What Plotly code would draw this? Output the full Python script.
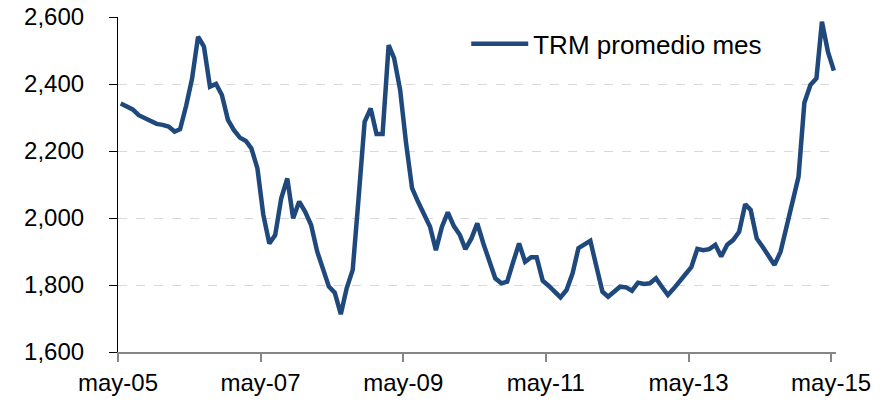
import pandas as pd
import plotly.graph_objects as go

# Monthly dates (mid-month), May 2005 - May 2015
months = pd.date_range("2005-05-01", "2015-05-01", freq="MS") + pd.Timedelta(days=14)

trm = [
    2342, 2332, 2324, 2307, 2297, 2290, 2281, 2278, 2273, 2258, 2265, 2335,
    2415, 2541, 2512, 2392, 2400, 2367, 2293, 2263, 2240, 2230, 2208, 2148,
    2010, 1924, 1949, 2059, 2118, 1999, 2049, 2019, 1979, 1900, 1845, 1795,
    1777, 1713, 1790, 1845, 2066, 2287, 2327, 2251, 2251, 2516, 2477, 2382,
    2225, 2089, 2049, 2009, 1974, 1904, 1974, 2017, 1976, 1949, 1907, 1939,
    1984, 1924, 1869, 1820, 1805, 1810, 1869, 1924, 1869, 1883, 1883, 1813,
    1798, 1780, 1763, 1785, 1835, 1910, 1920, 1932, 1855, 1780, 1765, 1780,
    1795, 1793, 1783, 1807, 1803, 1805, 1820, 1795, 1770, 1790, 1812, 1832,
    1853, 1908, 1904, 1907, 1920, 1885, 1920, 1934, 1959, 2041, 2024, 1939,
    1914, 1885, 1860, 1899, 1974, 2046, 2123, 2344, 2397, 2417, 2586, 2496,
    2440,
]

tick_dates = ["2005-05-01", "2007-05-01", "2009-05-01", "2011-05-01", "2013-05-01", "2015-05-01"]
tick_labels = ["may-05", "may-07", "may-09", "may-11", "may-13", "may-15"]
y_ticks = [1600, 1800, 2000, 2200, 2400, 2600]

FONT = "Liberation Sans, Arial, sans-serif"

fig = go.Figure()
fig.add_trace(go.Scatter(
    x=months, y=trm, mode="lines", name="TRM promedio mes",
    line=dict(color="#1F497D", width=4.5),
))

fig.update_layout(
    width=893, height=402,
    margin=dict(l=118, r=57, t=17, b=50),
    paper_bgcolor="white", plot_bgcolor="white",
    font=dict(family=FONT, size=24, color="black"),
    showlegend=True,
    legend=dict(x=0.485, y=0.92, xanchor="left", yanchor="middle",
                bgcolor="rgba(0,0,0,0)", font=dict(size=26), itemwidth=57),
)
fig.update_xaxes(
    type="date", range=["2005-05-01", "2015-05-26"],
    tickvals=tick_dates, ticktext=tick_labels,
    showline=True, linecolor="#868686", linewidth=1.5,
    ticks="outside", ticklen=8, tickcolor="#868686", tickwidth=1.5,
    showgrid=False, zeroline=False, automargin=False,
    ticklabeloverflow="allow",
    tickfont=dict(size=24),
)
fig.update_yaxes(
    range=[1600, 2600], tickvals=y_ticks, tickformat=",",
    showline=True, linecolor="black", linewidth=1.2,
    ticks="outside", ticklen=8, tickcolor="black", tickwidth=1.2,
    showgrid=True, gridcolor="#D9D9D9", griddash="dash", gridwidth=1,
    zeroline=False, ticklabelstandoff=20, automargin=False,
    ticklabeloverflow="allow",
    tickfont=dict(size=24),
)

# remove the browser's default 8px body margin so the figure sits at (0, 0)
fig.write_html("out.html", config={"displayModeBar": False},
               post_script="document.body.style.margin='0';")
